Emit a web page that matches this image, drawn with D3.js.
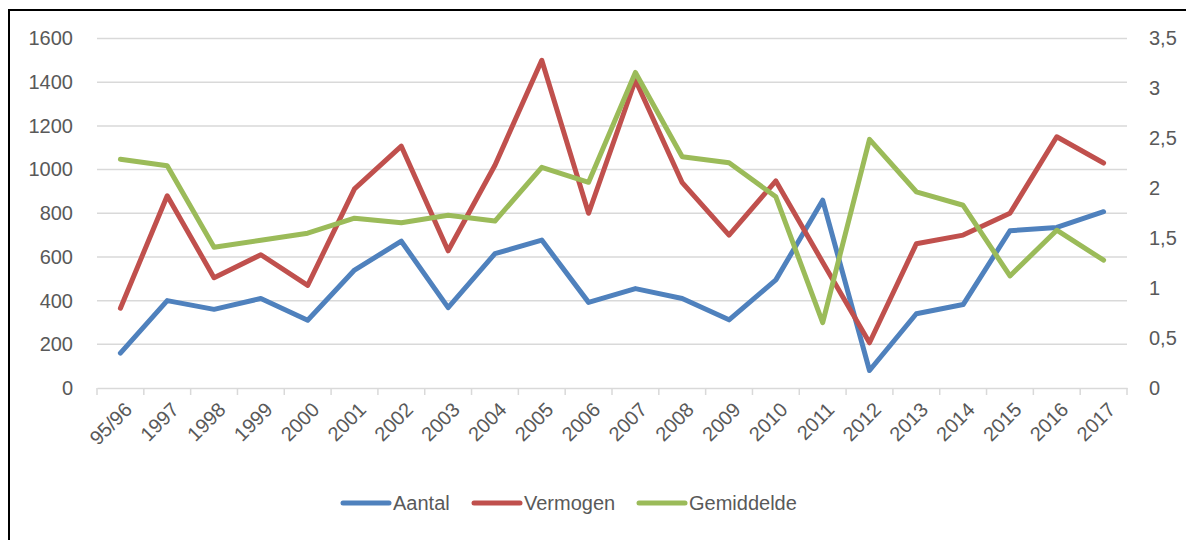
<!DOCTYPE html>
<html>
<head>
<meta charset="utf-8">
<script src="https://cdn.jsdelivr.net/npm/d3@7"></script>
<style>
  body { margin: 0; background: #fff; }
  svg { display: block; font-family: "Liberation Sans", Arial, sans-serif; }
</style>
</head>
<body>
<div id="chart"></div>
<script>
const categories = ["95/96", "1997", "1998", "1999", "2000", "2001", "2002", "2003", "2004", "2005", "2006",
    "2007", "2008", "2009", "2010", "2011", "2012", "2013", "2014", "2015", "2016", "2017"];
const aantal = [160, 400, 360, 410, 310, 540, 672, 368, 615, 677, 392, 455, 410, 312, 495, 860, 80, 340, 382, 720, 735, 807];
const vermogen = [365, 880, 505, 610, 470, 912, 1107, 628, 1020, 1500, 800, 1410, 940, 700, 948, 576, 207, 660, 700, 800, 1150, 1030];
const gemiddelde = [2.29, 2.225, 1.41, 1.48, 1.55, 1.70, 1.655, 1.73, 1.672, 2.21, 2.06, 3.16, 2.315, 2.255, 1.915, 0.655, 2.49, 1.965, 1.83, 1.122, 1.58, 1.28];
const leftTicks = [0, 200, 400, 600, 800, 1000, 1200, 1400, 1600];
const rightTicks = [0, 0.5, 1, 1.5, 2, 2.5, 3, 3.5];
const seriesNames = ["Aantal", "Vermogen", "Gemiddelde"];
const colors = ["#4F81BD", "#C0504D", "#9BBB59"];

const W = 1186, H = 540;
const plot = {left: 97, right: 1127, top: 38.5, bottom: 388};

const svg = d3.select("#chart")
    .append("svg")
    .attr("width", W)
    .attr("height", H);

// outer frame
svg.append("rect")
    .attr("x", 9)
    .attr("y", 10)
    .attr("width", W + 10)
    .attr("height", H + 10)
    .attr("fill", "#fff")
    .attr("stroke", "#000")
    .attr("stroke-width", 2);

const x = d3.scaleBand()
    .domain(categories)
    .range([plot.left, plot.right]);

const yLeft = d3.scaleLinear()
    .domain([0, 1600])
    .range([plot.bottom, plot.top]);

const yRight = d3.scaleLinear()
    .domain([0, 3.5])
    .range([plot.bottom, plot.top]);

// gridlines
svg.append("g")
    .selectAll("line")
    .data(leftTicks.slice(1))
    .enter()
    .append("line")
    .attr("x1", plot.left)
    .attr("x2", plot.right)
    .attr("y1", d => yLeft(d))
    .attr("y2", d => yLeft(d))
    .attr("stroke", "#d9d9d9")
    .attr("stroke-width", 1.5);

// left axis
const leftAxis = svg.append("g")
    .attr("transform", `translate(${plot.left},0)`)
    .call(d3.axisLeft(yLeft).tickValues(leftTicks).tickSize(0).tickPadding(24)
        .tickFormat(d3.format("d")));
leftAxis.select(".domain").remove();
leftAxis.selectAll("text")
    .style("font-size", "20px")
    .style("fill", "#595959")
    .style("font-family", "Liberation Sans, Arial, sans-serif");

// right axis
const rightAxis = svg.append("g")
    .attr("transform", `translate(${plot.right},0)`)
    .call(d3.axisRight(yRight).tickValues(rightTicks).tickSize(0).tickPadding(22)
        .tickFormat(d => String(d).replace(".", ",")));
rightAxis.select(".domain").remove();
rightAxis.selectAll("text")
    .style("font-size", "20px")
    .style("fill", "#595959")
    .style("font-family", "Liberation Sans, Arial, sans-serif");

// bottom axis
const bottomAxis = svg.append("g")
    .attr("transform", `translate(0,${plot.bottom})`)
    .call(d3.axisBottom(x).tickSize(0).tickPadding(0));
bottomAxis.select(".domain")
    .attr("stroke", "#d9d9d9")
    .attr("stroke-width", 1.5);
bottomAxis.selectAll(".tick line").remove();
bottomAxis.selectAll("text")
    .style("font-size", "20px")
    .style("fill", "#595959")
    .style("font-family", "Liberation Sans, Arial, sans-serif")
    .attr("text-anchor", "end")
    .attr("dy", "0.35em")
    .attr("transform", "translate(8,18) rotate(-45)");

// tick marks at category boundaries
svg.append("g")
    .selectAll("line")
    .data(categories.concat(["end"]))
    .enter()
    .append("line")
    .attr("x1", (d, i) => plot.left + i * x.step())
    .attr("x2", (d, i) => plot.left + i * x.step())
    .attr("y1", plot.bottom)
    .attr("y2", plot.bottom + 7)
    .attr("stroke", "#d9d9d9")
    .attr("stroke-width", 1.5);

const cx = d => x(d) + x.bandwidth() / 2;

const series = [
    {name: seriesNames[0], values: aantal, y: yLeft, color: colors[0]},
    {name: seriesNames[1], values: vermogen, y: yLeft, color: colors[1]},
    {name: seriesNames[2], values: gemiddelde, y: yRight, color: colors[2]}
];

series.forEach(s => {
    const line = d3.line()
        .x((d, i) => cx(categories[i]))
        .y(d => s.y(d));
    svg.append("path")
        .datum(s.values)
        .attr("d", line)
        .attr("fill", "none")
        .attr("stroke", s.color)
        .attr("stroke-width", 5)
        .attr("stroke-linejoin", "round")
        .attr("stroke-linecap", "round");
});

// legend
const legendX = [343, 474, 639];
const legend = svg.append("g");
series.forEach((s, i) => {
    legend.append("line")
        .attr("x1", legendX[i])
        .attr("x2", legendX[i] + 46)
        .attr("y1", 503)
        .attr("y2", 503)
        .attr("stroke", s.color)
        .attr("stroke-width", 5)
        .attr("stroke-linecap", "round");
    legend.append("text")
        .attr("x", legendX[i] + 50)
        .attr("y", 503)
        .attr("dy", "0.35em")
        .style("font-size", "20px")
        .style("fill", "#595959")
        .text(s.name);
});
</script>
</body>
</html>
